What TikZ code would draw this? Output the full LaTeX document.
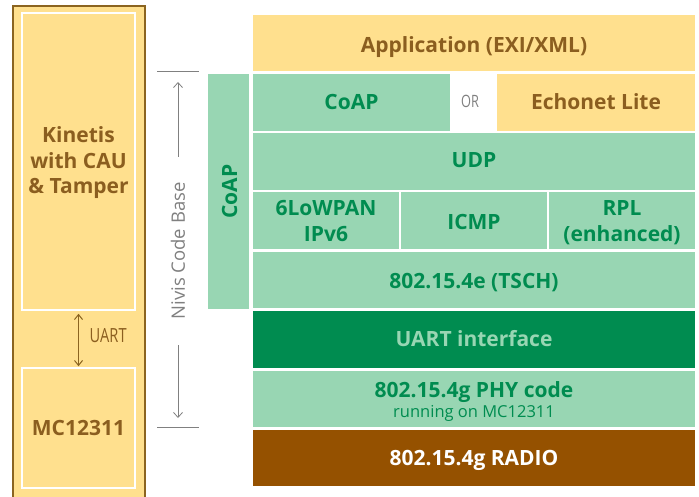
\documentclass[tikz,border=0pt]{standalone}
\usepackage{fontspec}
\setmainfont{Open Sans}
\usetikzlibrary{arrows.meta}
\definecolor{lgreen}{HTML}{98D6B3}
\definecolor{dgreen}{HTML}{008C50}
\definecolor{ylw}{HTML}{FFE08E}
\definecolor{btext}{HTML}{8B5E1F}
\definecolor{bborder}{HTML}{8B6420}
\definecolor{radio}{HTML}{955100}
\definecolor{gtext}{HTML}{808080}
\tikzset{
  cell/.style={inner sep=0pt},
  gcell/.style={cell, fill=lgreen},
  ycell/.style={cell, fill=ylw},
  txt/.style={inner sep=0pt, anchor=base, font=\bfseries\fontsize{21}{24}\selectfont},
  gtxt/.style={txt, text=dgreen},
  ytxt/.style={txt, text=btext},
  inbox/.style={draw=white, line width=1.5pt, inner sep=0pt},
  cond/.style={inner sep=0pt, anchor=base, font=\fontsize{19.5}{22}\selectfont},
  gline/.style={draw=gtext, line width=0.8pt},
}
\begin{document}
\begin{tikzpicture}[x=1pt,y=-1pt]
\useasboundingbox (0,0) rectangle (699,497);
% left board
\node[draw=bborder, fill=ylw, line width=2pt, minimum width=132pt, minimum height=500pt, inner sep=0pt, anchor=north west] (board) at (12,5) {};
\node[inbox, minimum width=113pt, minimum height=297pt] (kin) at (78.5,161.5) {};
\node[ytxt] (kin1) at (78.5,143) {Kinetis};
\node[ytxt] (kin2) at (78.5,168.5) {with CAU};
\node[ytxt] (kin3) at (78.5,194) {\& Tamper};
\node[inbox, minimum width=113pt, minimum height=120pt] (mc) at (78.5,428) {};
\node[ytxt] (mctxt) at (78.5,435.5) {MC12311};
\draw[bborder, line width=1pt, {Straight Barb[length=5pt,width=8pt]}-{Straight Barb[length=5pt,width=8pt]}] ([yshift=-3pt]kin.south) -- ([yshift=1pt]mc.north);
\node[text=btext, cond, anchor=base west] (uartlbl) at (89.5,342) {\scalebox{0.75}[1]{UART}};
% Nivis code base
\coordinate (t1) at (157,71); \coordinate (t2) at (199,71);
\coordinate (b1) at (157,427); \coordinate (b2) at (199,427);
\draw[gline] (t1) -- (t2);
\draw[gline] (b1) -- (b2);
\node[text=gtext, rotate=90, font=\fontsize{18.5}{20}\selectfont] (nivis) at (178,251) {Nivis Code Base};
\coordinate (au1) at (178,157); \coordinate (au2) at (178,82);
\coordinate (ad1) at (178,345); \coordinate (ad2) at (178,418);
\draw[gline, -{Straight Barb[length=5pt,width=9pt]}] (au1) -- (au2);
\draw[gline, -{Straight Barb[length=5pt,width=9pt]}] (ad1) -- (ad2);
% vertical CoAP
\node[gcell, minimum width=41pt, minimum height=235pt] (coapv) at (228.5,191.5) {};
\node[gtxt, rotate=90] (coapvt) at (237,191.5) {CoAP};
% stack
\node[ycell, minimum width=442pt, minimum height=56pt] (app) at (474,43) {};
\node[ytxt] (appt) at (474,52.5) {Application (EXI/XML)};
\node[gcell, minimum width=197pt, minimum height=57pt] (coap) at (351.5,102.5) {};
\node[gtxt] (coapt) at (351.5,110) {CoAP};
\node[text=gtext, cond, font=\fontsize{17}{20}\selectfont] (or) at (470,107.5) {\scalebox{0.75}[1]{OR}};
\node[ycell, minimum width=198pt, minimum height=57pt] (echo) at (596,102.5) {};
\node[ytxt] (echot) at (596,110) {Echonet Lite};
\node[gcell, minimum width=442pt, minimum height=57pt] (udp) at (474,161.5) {};
\node[gtxt] (udpt) at (474,168) {UDP};
\node[gcell, minimum width=146pt, minimum height=57pt] (lowpan) at (326,220.5) {};
\node[gtxt] (lowpan1) at (326,216) {6LoWPAN};
\node[gtxt] (lowpan2) at (326,241.5) {IPv6};
\node[gcell, minimum width=146pt, minimum height=57pt] (icmp) at (474,220.5) {};
\node[gtxt] (icmpt) at (474,229.5) {ICMP};
\node[gcell, minimum width=146pt, minimum height=57pt] (rpl) at (622,220.5) {};
\node[gtxt] (rpl1) at (622,216) {RPL};
\node[gtxt] (rpl2) at (622,241.5) {(enhanced)};
\node[gcell, minimum width=442pt, minimum height=56pt] (tsch) at (474,280) {};
\node[gtxt] (tscht) at (474,288) {802.15.4e (TSCH)};
\node[cell, fill=dgreen, minimum width=442pt, minimum height=57pt] (uartif) at (474,339.5) {};
\node[txt, text=lgreen] (uartift) at (474,346.5) {UART interface};
\node[gcell, minimum width=442pt, minimum height=56pt] (phy) at (474,399) {};
\node[gtxt] (phy1) at (474,397) {802.15.4g PHY code};
\node[txt, text=dgreen, font=\fontsize{16.5}{18}\selectfont] (phy2) at (474,417) {running on MC12311};
\node[cell, fill=radio, minimum width=442pt, minimum height=56pt] (radio) at (474,458) {};
\node[txt, text=white] (radiot) at (474,465) {802.15.4g RADIO};
\end{tikzpicture}
\end{document}
